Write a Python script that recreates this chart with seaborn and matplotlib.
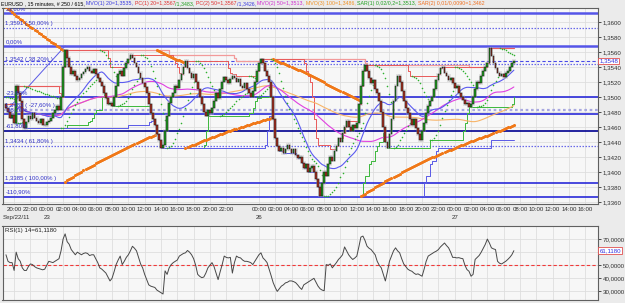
import numpy as np
import pandas as pd
import matplotlib
matplotlib.use("Agg")
import matplotlib.pyplot as plt
import seaborn as sns

sns.set_theme(style="white")
plt.rcParams['font.family'] = ['Liberation Sans', 'DejaVu Sans']

# ---------------- data ----------------
first_open = 1.3490
close = [
    1.3485, 1.3480, 1.3472, 1.3476, 1.3465, 1.3515, 1.3505, 1.3495, 1.3470, 1.3458,
    1.3466, 1.3475, 1.3470, 1.3478, 1.3472, 1.3468, 1.3465, 1.3470, 1.3463, 1.3462,
    1.3466, 1.3468, 1.3472, 1.3478, 1.3482, 1.3488, 1.3483, 1.3500, 1.3540, 1.3562,
    1.3552, 1.3540, 1.3530, 1.3535, 1.3528, 1.3522, 1.3525, 1.3530, 1.3533, 1.3537,
    1.3540, 1.3535, 1.3532, 1.3537, 1.3530, 1.3525, 1.3520, 1.3515, 1.3505, 1.3498,
    1.3490, 1.3492, 1.3488, 1.3500, 1.3515, 1.3530, 1.3535, 1.3528, 1.3538, 1.3545,
    1.3550, 1.3556, 1.3552, 1.3545, 1.3540, 1.3532, 1.3525, 1.3518, 1.3513, 1.3505,
    1.3490, 1.3478, 1.3470, 1.3462, 1.3450, 1.3442, 1.3432, 1.3436, 1.3455, 1.3475,
    1.3492, 1.3500, 1.3505, 1.3515, 1.3512, 1.3522, 1.3530, 1.3540, 1.3548, 1.3538,
    1.3532, 1.3525, 1.3530, 1.3520, 1.3510, 1.3500, 1.3490, 1.3480, 1.3475, 1.3482,
    1.3478, 1.3485, 1.3495, 1.3505, 1.3498, 1.3510, 1.3520, 1.3526, 1.3522, 1.3518,
    1.3524, 1.3528, 1.3525, 1.3520, 1.3524, 1.3515, 1.3512, 1.3518, 1.3510, 1.3505,
    1.3500, 1.3508, 1.3520, 1.3535, 1.3545, 1.3550, 1.3545, 1.3535, 1.3528, 1.3520,
    1.3500, 1.3470, 1.3445, 1.3435, 1.3428, 1.3432, 1.3425, 1.3430, 1.3436, 1.3430,
    1.3425, 1.3430, 1.3422, 1.3418, 1.3420, 1.3412, 1.3405, 1.3410, 1.3400, 1.3405,
    1.3408, 1.3400, 1.3390, 1.3380, 1.3368, 1.3385, 1.3400, 1.3395, 1.3410, 1.3420,
    1.3415, 1.3428, 1.3435, 1.3445, 1.3440, 1.3452, 1.3460, 1.3468, 1.3460, 1.3455,
    1.3462, 1.3458, 1.3465, 1.3490, 1.3515, 1.3535, 1.3542, 1.3535, 1.3525, 1.3518,
    1.3522, 1.3510, 1.3505, 1.3495, 1.3480, 1.3460, 1.3440, 1.3432, 1.3450, 1.3470,
    1.3495, 1.3515, 1.3528, 1.3520, 1.3508, 1.3495, 1.3485, 1.3478, 1.3470, 1.3462,
    1.3470, 1.3458, 1.3450, 1.3442, 1.3455, 1.3465, 1.3478, 1.3488, 1.3495, 1.3500,
    1.3510, 1.3522, 1.3530, 1.3538, 1.3540, 1.3532, 1.3528, 1.3522, 1.3525, 1.3518,
    1.3512, 1.3515, 1.3505, 1.3500, 1.3496, 1.3490, 1.3492, 1.3487, 1.3490, 1.3500,
    1.3510, 1.3520, 1.3518, 1.3528, 1.3535, 1.3540, 1.3545, 1.3565, 1.3555, 1.3545,
    1.3538, 1.3532, 1.3528, 1.3530, 1.3526, 1.3532, 1.3535, 1.3540, 1.3545, 1.3548,
]

rsi_values = [
    58, 53, 52, 52, 46, 60, 55, 53, 48, 46,
    46, 49, 51, 50.5, 49, 48, 47.5, 47, 46.5, 47,
    50, 53, 52.5, 52, 53, 54, 55, 61, 70, 74,
    68, 66, 62, 60, 58, 60, 59, 58, 59, 59.5,
    59, 57.4, 58, 58, 55, 52, 48, 47, 45.5, 44,
    41, 38, 40, 45, 50.5, 54, 57, 50.5, 53, 56,
    58, 61, 64.5, 63, 61, 56, 51, 48, 43, 39,
    35, 34, 33.5, 33, 31, 30, 29, 28, 45.7, 43,
    48, 50.5, 52, 53, 54, 57, 58, 59, 59.5, 61.3,
    60, 58, 55, 50, 43, 41.5, 40.5, 41, 44, 48,
    50, 52, 49, 44, 39, 45, 50.5, 57, 56, 55.6,
    56, 44, 52, 57, 56, 55.6, 54, 53, 53, 52.6,
    52, 50.5, 53, 55.6, 58, 59.5, 55.6, 54, 52, 47,
    42, 36.7, 33, 30, 32, 34, 35, 36.5, 37, 38,
    38, 37.5, 36.7, 35, 33, 31.5, 35, 36, 37, 38,
    39, 40, 37, 34, 32, 31, 30.5, 50.5, 50, 51,
    48, 50, 52, 54.4, 56, 58, 64, 61, 58, 56,
    54.4, 55.5, 57, 64, 71.5, 72.3, 69, 64.6, 63, 62,
    60, 58, 53, 50, 48, 43, 38, 45, 53, 57,
    61, 63.3, 61, 59.5, 55, 51, 49, 47, 46, 45.4,
    44, 43, 43.4, 42.5, 41.6, 47, 53, 57, 58, 59,
    60, 60.8, 62, 64, 65.5, 67, 65, 63.3, 60, 56,
    56, 55.6, 55.8, 55.3, 55, 50, 46.7, 45.4, 41.6, 43,
    54.4, 56, 57.5, 60, 63, 66, 70, 67, 63.3, 62.5,
    62, 53, 51.5, 51, 52, 53, 54.4, 56, 58, 61.118,
]

# session timestamps (Friday session, then Sunday-evening open)
session1 = pd.date_range("2011-09-22 19:00", "2011-09-23 23:45", freq="15min")
session2_start = "2011-09-25 22:00"
axis_bars = 291

# indicator parameters
ma_periods = [20, 50, 100]
pc_periods = [20, 50]
sar1_params = dict(step=0.02, max_af=0.2, up=False, sar0=1.3500, ep0=1.3472)
sar2_params = dict(step=0.01, max_af=0.01, up=False, sar0=1.3620, ep0=1.3387)
rsi_period = 14

# Fibonacci / horizontal levels and labels
fib_levels = [1.3612, 1.3592, 1.3568, 1.3544, 1.3500, 1.3483, 1.3477, 1.3455, 1.3435, 1.3385, 1.3367]
fib_labels = ["23,60%", "1,3591 ( 50,00% )", "0,00%", "1,3542 ( 38,20% )", "-23,60%",
              "1,3483 ( -27,60% )", "-38,20%", "-61,80%", "1,3434 ( 61,80% )",
              "1,3385 ( 100,00% )", "-110,90%"]
fib_styles = ["thick", "dot", "thick", "dot", "solid", "dot2", "solid", "navy", "dot", "solid", "solid"]
fib_trend_x = [2, 29]
fib_trend_y = [1.3487, 1.3568]

price_ticks = [1.3360, 1.3380, 1.3400, 1.3420, 1.3440, 1.3460, 1.3480,
               1.3500, 1.3520, 1.3540, 1.3560, 1.3580, 1.3600]
rsi_ticks = [30, 40, 50, 70]
rsi_mid = 50

header_parts = [
    ("EURUSD , 15 minutes, # 250 / 615, ", "#000000"),
    ("MVO(1) 20=1,3535, ", "#3a3ae0"),
    ("PC(1) 20=1,3567", "#e03030"),
    ("/1,3483, ", "#20a020"),
    ("PC(2) 50=1,3567", "#e03030"),
    ("/1,3426, ", "#3a3ae0"),
    ("MVO(2) 50=1,3513, ", "#d030d0"),
    ("MVO(3) 100=1,3486, ", "#f09020"),
    ("SAR(1) 0,02/0,2=1,3513, ", "#20a020"),
    ("SAR(2) 0,01/0,0090=1,3462", "#f07020"),
]

# ---------------- derived series ----------------
n = len(close)
c = np.array(close)
o = np.concatenate([[first_open], c[:-1]])
hi = np.maximum(o, c)
lo = np.minimum(o, c)
idx = np.arange(n)

session2 = pd.date_range(session2_start, periods=axis_bars - len(session1), freq="15min")
times = session1.append(session2)

df = pd.DataFrame({"i": idx, "open": o, "close": c, "high": hi, "low": lo, "rsi": rsi_values})
for p in ma_periods:
    df[f"ma{p}"] = df["close"].rolling(p, min_periods=1).mean()
for p in pc_periods:
    df[f"up{p}"] = df["high"].rolling(p, min_periods=1).max()
    df[f"dn{p}"] = df["low"].rolling(p, min_periods=1).min()


def psar(high, low, step, max_af, up, sar0, ep0):
    out = np.empty(len(high))
    sar, ep, af = sar0, ep0, step
    for t in range(len(high)):
        if t > 0:
            sar = sar + af * (ep - sar)
            if up:
                sar = min(sar, low[t - 1], low[max(t - 2, 0)])
                if low[t] < sar:
                    up, sar, ep, af = False, ep, low[t], step
                elif high[t] > ep:
                    ep, af = high[t], min(af + step, max_af)
            else:
                sar = max(sar, high[t - 1], high[max(t - 2, 0)])
                if high[t] > sar:
                    up, sar, ep, af = True, ep, high[t], step
                elif low[t] < ep:
                    ep, af = low[t], min(af + step, max_af)
        out[t] = sar
    return out


df["sar1"] = psar(hi, lo, **sar1_params)
df["sar2"] = psar(hi, lo, **sar2_params)

# ---------------- figure ----------------
W, H = 625, 303
fig = plt.figure(figsize=(W / 100, H / 100), dpi=100, facecolor="#ebebeb")
ax = fig.add_axes([2.5 / W, 1 - 203.5 / H, 595 / W, 196 / H])
axr = fig.add_axes([2.5 / W, 1 - 299.5 / H, 595 / W, 73.5 / H])

for a in (ax, axr):
    a.set_facecolor("#f7f7f7")
    for s in a.spines.values():
        s.set_color("#606060")
        s.set_linewidth(0.8)

xlim = (-1.7, 290.0)

# grid: every 2 hours, and each price tick
tick_pos = [k for k, t in enumerate(times) if t.minute == 0 and t.hour % 2 == 0 and t.weekday() != 6]
tick_lab = [times[k].strftime("%H:%M") for k in tick_pos]
for a in (ax, axr):
    for k in tick_pos:
        a.axvline(k, color="#dedede", lw=0.6, zorder=0)
for p in price_ticks:
    ax.axhline(p, color="#dedede", lw=0.6, zorder=0)
for r in [30, 40, 50, 60, 70]:
    axr.axhline(r, color="#dedede", lw=0.6, zorder=0)

# horizontal levels
style_map = {
    "thick": dict(color="#5555e8", lw=1.8, ls="-"),
    "solid": dict(color="#2a2ad8", lw=1.2, ls="-"),
    "navy": dict(color="#000090", lw=1.2, ls="-"),
    "dot": dict(color="#6a6ae8", lw=0.9, ls=(0, (1.2, 1.2))),
    "dot2": dict(color="#a8a8e0", lw=1.6, ls=(0, (1.2, 1.2))),
}
for lvl, lab, st in zip(fib_levels, fib_labels, fib_styles):
    ax.axhline(lvl, zorder=2, **style_map[st])
    ax.annotate(lab, xy=(0, lvl), xycoords=("axes fraction", "data"), xytext=(2, 1.5),
                textcoords="offset points", fontsize=4.3, color="#3030c8",
                va="bottom", ha="left", annotation_clip=True, clip_on=True, zorder=6)
ax.plot(fib_trend_x, fib_trend_y, color="#5a5ae6", lw=0.7, zorder=3)

# price channels
sns.lineplot(data=df, x="i", y="up50", ax=ax, color="#f29a9a", lw=0.9, drawstyle="steps-post", zorder=3)
sns.lineplot(data=df, x="i", y="up20", ax=ax, color="#e85a5a", lw=0.7, drawstyle="steps-post", zorder=3)
sns.lineplot(data=df, x="i", y="dn20", ax=ax, color="#3cb83c", lw=0.7, drawstyle="steps-post", zorder=3)
sns.lineplot(data=df, x="i", y="dn50", ax=ax, color="#5a5ae6", lw=0.7, drawstyle="steps-post", zorder=3)

# moving averages
sns.lineplot(data=df, x="i", y="ma100", ax=ax, color="#f8b468", lw=0.8, zorder=3)
sns.lineplot(data=df, x="i", y="ma50", ax=ax, color="#e040e0", lw=0.8, zorder=3)
sns.lineplot(data=df, x="i", y="ma20", ax=ax, color="#5a5af0", lw=0.8, zorder=3)

# SAR dots
sns.scatterplot(data=df, x="i", y="sar2", ax=ax, color="#f07818", s=5, linewidth=0, zorder=4)
sns.scatterplot(data=df, x="i", y="sar1", ax=ax, color="#2fb02f", s=1.3, linewidth=0, zorder=4)

# candles
up = c >= o
body_h = np.maximum(hi - lo, 0.00004)
ax.bar(idx, body_h + 0.0004, bottom=lo - 0.0002, width=1.9, color="#b8b8b8", alpha=0.35, lw=0, zorder=4)
ax.bar(idx[up], body_h[up], bottom=lo[up], width=0.85, color="#1e9e1e", edgecolor="#151515", lw=0.35, zorder=5)
ax.bar(idx[~up], body_h[~up], bottom=lo[~up], width=0.85, color="#a83020", edgecolor="#151515", lw=0.35, zorder=5)

# current price line
ax.axhline(close[-1], color="#4a4ae8", lw=0.8, ls=(0, (3, 2)), zorder=2)

ax.set_xlim(*xlim)
ax.set_ylim(1.33580, 1.36193)
ax.set_xlabel("")
ax.set_ylabel("")
ax.yaxis.tick_right()
ax.set_yticks(price_ticks)
ax.set_yticklabels([f"{p:.4f}".replace(".", ",") for p in price_ticks])
ax.tick_params(axis="y", right=True, length=2.5, width=0.6, pad=1.5, labelsize=4.4, colors="#303030")
ax.set_xticks(tick_pos)
ax.set_xticklabels(tick_lab)
ax.tick_params(axis="x", bottom=True, length=0, pad=2.5, labelsize=4.4, colors="#303030")
ax.text(1.003, close[-1], f"{close[-1]:.4f}".replace(".", ","), transform=ax.get_yaxis_transform(),
        fontsize=4.4, color="#3030e0", va="center", ha="left",
        bbox=dict(boxstyle="square,pad=0.15", fc="white", ec="#e05050", lw=0.6), zorder=10, clip_on=False)

# day labels
day_pos = [k for k in tick_pos if times[k].hour == 0]
for k in day_pos:
    ax.annotate(str(times[k].day), xy=(k, 0), xycoords=("data", "axes fraction"), xytext=(0, -9.8),
                textcoords="offset points", fontsize=4.4, ha="center", va="center", color="#303030")
ax.annotate(times[0].strftime("%b/%d/%y"), xy=(0, 0), xycoords="axes fraction", xytext=(0, -9.8),
            textcoords="offset points", fontsize=4.4, ha="left", va="center", color="#303030")

# RSI panel
sns.lineplot(data=df, x="i", y="rsi", ax=axr, color="#484848", lw=0.7, zorder=3)
axr.axhline(rsi_mid, color="#f03a3a", lw=0.8, ls=(0, (3, 2)), zorder=2)
axr.set_xlim(*xlim)
axr.set_ylim(23.8, 80)
axr.set_xlabel("")
axr.set_ylabel("")
axr.set_xticks([])
axr.yaxis.tick_right()
axr.set_yticks(rsi_ticks)
axr.set_yticklabels([f"{r:.4f}".replace(".", ",") for r in rsi_ticks])
axr.tick_params(axis="y", right=True, length=2.5, width=0.6, pad=1.5, labelsize=4.4, colors="#303030")
last_rsi = rsi_values[-1]
axr.text(1.003, last_rsi, f"{last_rsi:.4f}".replace(".", ","), transform=axr.get_yaxis_transform(),
         fontsize=4.4, color="#3030e0", va="center", ha="left",
         bbox=dict(boxstyle="square,pad=0.15", fc="white", ec="#e05050", lw=0.6), zorder=10, clip_on=False)
axr.text(0.004, 0.97, f"RSI(1) {rsi_period}={last_rsi:.4f}".replace(".", ","), transform=axr.transAxes,
         fontsize=4.4, va="top", ha="left", color="#202020")

# header
renderer = fig.canvas.get_renderer()
xh = 1.0 / W
for s, col in header_parts:
    t = fig.text(xh, 1 - 3.8 / H, s, fontsize=3.8, color=col, va="center", ha="left")
    xh += t.get_window_extent(renderer).width / W

fig.savefig("out.png", dpi=100, facecolor=fig.get_facecolor())
